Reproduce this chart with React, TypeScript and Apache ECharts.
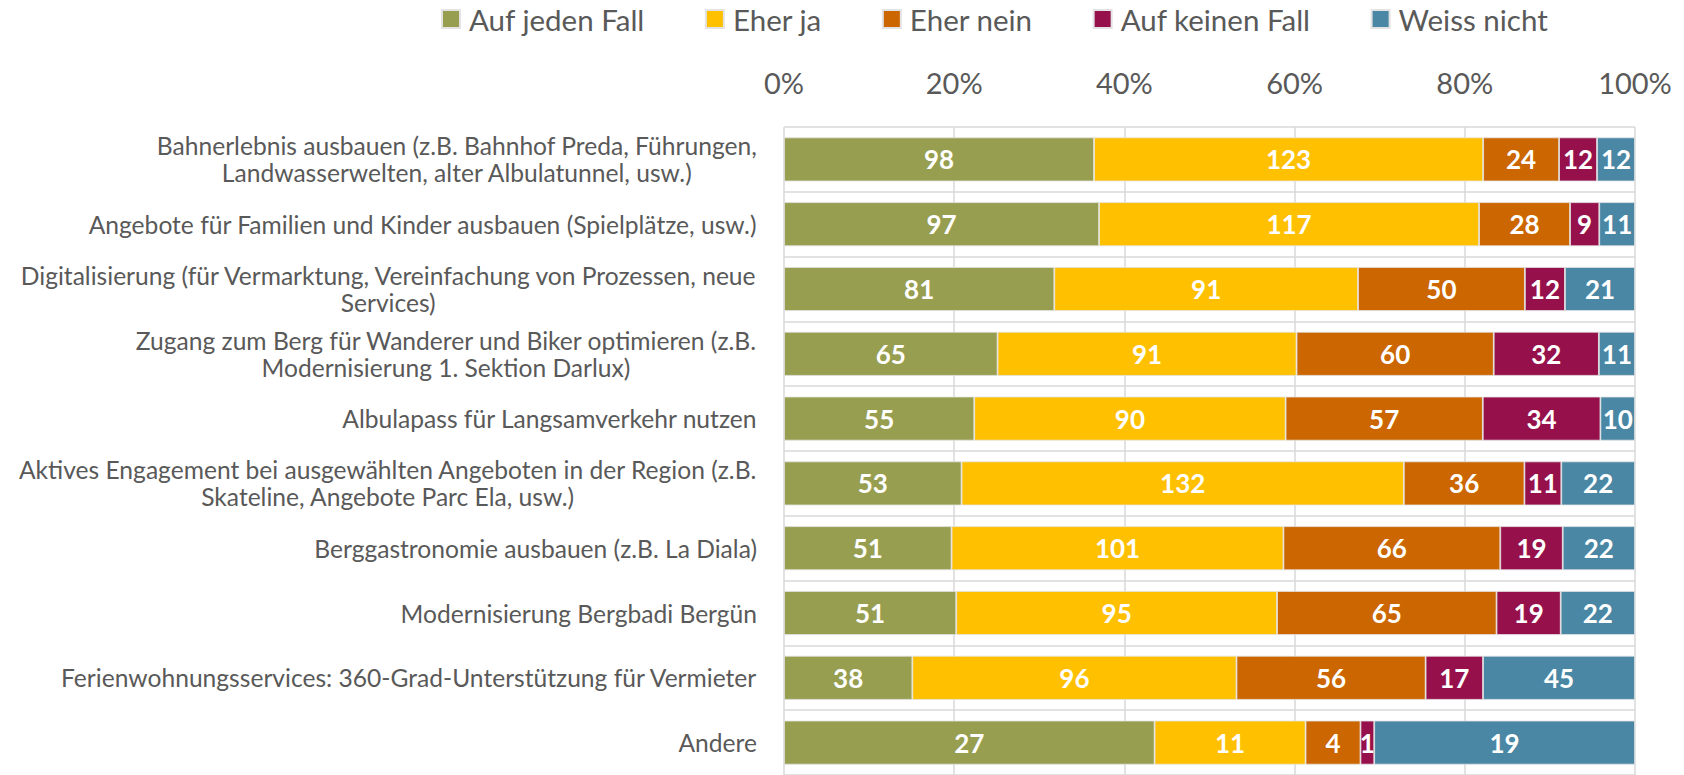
import React, { useEffect, useRef } from "react";
import * as echarts from "echarts";

const categories: string[] = [
  "Bahnerlebnis ausbauen (z.B. Bahnhof Preda, Führungen,\nLandwasserwelten, alter Albulatunnel, usw.)",
  "Angebote für Familien und Kinder ausbauen (Spielplätze, usw.)",
  "Digitalisierung (für Vermarktung, Vereinfachung von Prozessen, neue\nServices)",
  "Zugang zum Berg für Wanderer und Biker optimieren (z.B.\nModernisierung 1. Sektion Darlux)",
  "Albulapass für Langsamverkehr nutzen",
  "Aktives Engagement bei ausgewählten Angeboten in der Region (z.B.\nSkateline, Angebote Parc Ela, usw.)",
  "Berggastronomie ausbauen (z.B. La Diala)",
  "Modernisierung Bergbadi Bergün",
  "Ferienwohnungsservices: 360-Grad-Unterstützung für Vermieter",
  "Andere",
];

const seriesNames: string[] = ["Auf jeden Fall", "Eher ja", "Eher nein", "Auf keinen Fall", "Weiss nicht"];

const aufJedenFall: number[] = [98, 97, 81, 65, 55, 53, 51, 51, 38, 27];
const eherJa: number[] = [123, 117, 91, 91, 90, 132, 101, 95, 96, 11];
const eherNein: number[] = [24, 28, 50, 60, 57, 36, 66, 65, 56, 4];
const aufKeinenFall: number[] = [12, 9, 12, 32, 34, 11, 19, 19, 17, 1];
const weissNicht: number[] = [12, 11, 21, 11, 10, 22, 22, 22, 45, 19];

const tickValues: number[] = [0, 20, 40, 60, 80, 100];

const colors: string[] = ["#989E50", "#FFC000", "#CC6600", "#96114B", "#4A87A4"];

const FONT = "Lato";

export default function App() {
  const ref = useRef<HTMLDivElement>(null);

  useEffect(() => {
    document.body.style.margin = "0";
    if (!ref.current) return;
    const chart = echarts.init(ref.current, null, { renderer: "svg" });
    const raw = [aufJedenFall, eherJa, eherNein, aufKeinenFall, weissNicht];
    const totals = categories.map((_, i) => raw.reduce((s, arr) => s + arr[i], 0));

    const series = raw.map((arr, si) => ({
      name: seriesNames[si],
      type: "bar",
      stack: "total",
      barWidth: 44,
      data: arr.map((v, i) => ({ value: (v / totals[i]) * 100, raw: v })),
      itemStyle: { color: colors[si], borderColor: "#E3E3E3", borderWidth: 0.8 },
      label: {
        show: true,
        position: "inside",
        color: "#FFFFFF",
        fontFamily: FONT,
        fontWeight: "bold",
        fontSize: 26,
        formatter: (p: any) => String(p.data.raw),
      },
    }));

    chart.setOption({
      animation: false,
      backgroundColor: "#FFFFFF",
      color: colors,
      legend: {
        left: 441,
        top: 4,
        padding: 0,
        itemWidth: 18,
        itemHeight: 18,
        itemGap: 60,
        icon: "rect",
        data: seriesNames,
        textStyle: { fontFamily: FONT, fontSize: 29.5, color: "#595959", padding: [0, 0, 0, 4] },
      },
      grid: { left: 784, top: 127, width: 851, height: 652, containLabel: false },
      xAxis: {
        type: "value",
        position: "top",
        min: tickValues[0],
        max: tickValues[tickValues.length - 1],
        interval: 20,
        axisLine: { show: false },
        axisTick: { show: false },
        axisLabel: {
          formatter: "{value}%",
          fontFamily: FONT,
          fontSize: 29,
          color: "#595959",
          margin: 30,
        },
        splitLine: { show: true, lineStyle: { color: "#D9D9D9", width: 1.5 } },
      },
      yAxis: {
        type: "category",
        inverse: true,
        data: categories,
        axisLine: { show: false },
        axisTick: { show: false },
        splitLine: { show: true, lineStyle: { color: "#D9D9D9", width: 1.5 } },
        axisLabel: {
          margin: 27,
          interval: 0,
          formatter: (v: string) => v.split("\n").map((l) => `{c|${l}}`).join("\n"),
          rich: {
            c: { align: "center", fontFamily: FONT, fontSize: 24.6, color: "#595959", lineHeight: 27 },
          },
        },
      },
      series,
    });
    return () => chart.dispose();
  }, []);

  return <div ref={ref} style={{ width: 1684, height: 775 }} />;
}
